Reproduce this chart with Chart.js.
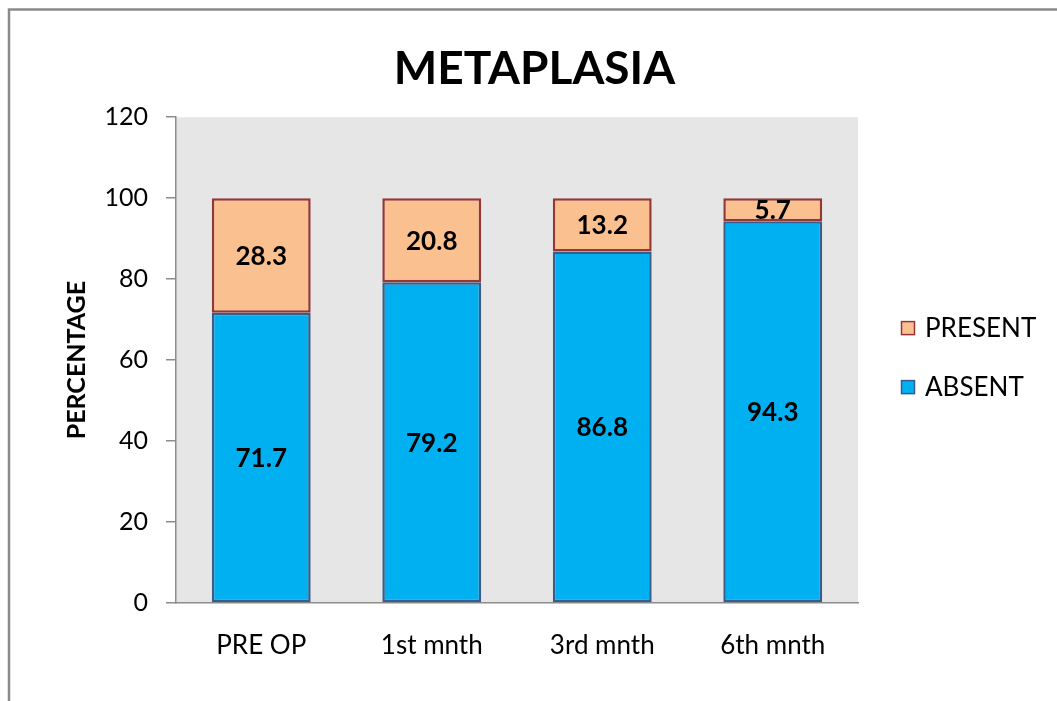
<!DOCTYPE html>
<html>
<head>
<meta charset="utf-8">
<script src="https://cdn.jsdelivr.net/npm/chart.js@4/dist/chart.umd.min.js"></script>
<style>
  html, body { margin: 0; padding: 0; background: #ffffff; }
  #wrap { width: 1057px; height: 701px; position: relative; }
</style>
</head>
<body>
<div id="wrap"><canvas id="chart" width="1057" height="701"></canvas></div>
<script>
// Metaplasia status over follow-up, percent of patients
const categories = ['PRE OP', '1st mnth', '3rd mnth', '6th mnth'];
const absentValues = [71.7, 79.2, 86.8, 94.3];
const presentValues = [28.3, 20.8, 13.2, 5.7];
const yTicks = [0, 20, 40, 60, 80, 100, 120];

const FONT = 'Lato, "Open Sans", "DejaVu Sans", sans-serif';
Chart.defaults.font.family = FONT;
Chart.defaults.color = '#000000';

const AXIS_GREY = '#8c8c8c';

// grey outer frame and grey plot background
const framePlugin = {
  id: 'frame',
  beforeDraw(chart) {
    const { ctx, chartArea } = chart;
    ctx.save();
    ctx.fillStyle = '#e6e6e6';
    ctx.fillRect(chartArea.left, chartArea.top,
                 chartArea.right - chartArea.left, chartArea.bottom - chartArea.top);
    ctx.strokeStyle = '#8a8a8a';
    ctx.lineWidth = 2.5;
    ctx.strokeRect(9, 9.5, chart.width + 20, chart.height + 20);
    ctx.restore();
  }
};

// value printed in the middle of every stacked segment
const segmentLabels = {
  id: 'segmentLabels',
  afterDatasetsDraw(chart) {
    const { ctx } = chart;
    ctx.save();
    ctx.font = 'bold 26px ' + FONT;
    ctx.fillStyle = '#000000';
    ctx.textAlign = 'center';
    ctx.textBaseline = 'middle';
    chart.data.datasets.forEach((ds, i) => {
      const meta = chart.getDatasetMeta(i);
      meta.data.forEach((bar, j) => {
        const yMid = (bar.y + bar.base) / 2;
        ctx.fillText(String(ds.data[j]), bar.x, yMid + 1);
      });
    });
    ctx.restore();
  }
};

// legend to the right of the plot, PRESENT above ABSENT
const sideLegend = {
  id: 'sideLegend',
  afterDraw(chart) {
    const { ctx, chartArea } = chart;
    const mid = (chartArea.top + chartArea.bottom) / 2;
    const x = chartArea.right + 43;
    const items = chart.data.datasets.slice().reverse();
    const rowY = [mid - 32, mid + 27];
    ctx.save();
    ctx.font = '26px ' + FONT;
    ctx.textAlign = 'left';
    ctx.textBaseline = 'middle';
    items.forEach((ds, k) => {
      const y = rowY[k];
      ctx.fillStyle = ds.backgroundColor;
      ctx.fillRect(x, y - 7, 14, 14);
      ctx.strokeStyle = ds.borderColor;
      ctx.lineWidth = 1.5;
      ctx.strokeRect(x + 0.5, y - 6.5, 13, 13);
      ctx.fillStyle = '#000000';
      ctx.fillText(ds.label, x + 24, y + 1);
    });
    ctx.restore();
  }
};

new Chart(document.getElementById('chart'), {
  type: 'bar',
  data: {
    labels: categories,
    datasets: [
      {
        label: 'ABSENT',
        data: absentValues,
        backgroundColor: '#00b0f0',
        borderColor: '#385d8a',
        borderWidth: 2.5,
        borderSkipped: false,
        barPercentage: 0.58,
        categoryPercentage: 1.0
      },
      {
        label: 'PRESENT',
        data: presentValues,
        backgroundColor: '#fac090',
        borderColor: '#953735',
        borderWidth: 2.5,
        borderSkipped: false,
        barPercentage: 0.58,
        categoryPercentage: 1.0
      }
    ]
  },
  options: {
    responsive: false,
    animation: false,
    layout: { padding: { left: 12, right: 0, top: 0, bottom: 0 } },
    plugins: {
      legend: { display: false },
      tooltip: { enabled: false },
      title: {
        display: true,
        text: 'METAPLASIA',
        color: '#000000',
        font: { size: 46, weight: 'bold', family: FONT, lineHeight: 1.2 },
        padding: { top: 42, bottom: 20 }
      }
    },
    scales: {
      x: {
        stacked: true,
        grid: { display: false },
        border: { display: true, color: AXIS_GREY, width: 1.5 },
        ticks: { font: { size: 26 }, color: '#000000', padding: 19, maxRotation: 0 },
        afterFit(scale) { scale.height = 98; }
      },
      y: {
        stacked: true,
        min: 0,
        max: 120,
        afterBuildTicks(scale) { scale.ticks = yTicks.map(v => ({ value: v })); },
        grid: { drawOnChartArea: false, drawTicks: true, tickLength: 10, color: AXIS_GREY, lineWidth: 1.5 },
        border: { display: true, color: AXIS_GREY, width: 1.5 },
        ticks: { font: { size: 25 }, color: '#000000', padding: 18 },
        title: {
          display: true,
          text: 'PERCENTAGE',
          color: '#000000',
          font: { size: 25, weight: 'bold', family: FONT, lineHeight: 1.2 },
          padding: { top: 50, bottom: 0 }
        },
        afterFit(scale) { scale.width = 164; }
      },
      legendRoom: {
        position: 'right',
        display: true,
        grid: { display: false },
        border: { display: false },
        ticks: { display: false },
        afterFit(scale) { scale.width = 199; }
      }
    }
  },
  plugins: [framePlugin, segmentLabels, sideLegend]
});
</script>
</body>
</html>
